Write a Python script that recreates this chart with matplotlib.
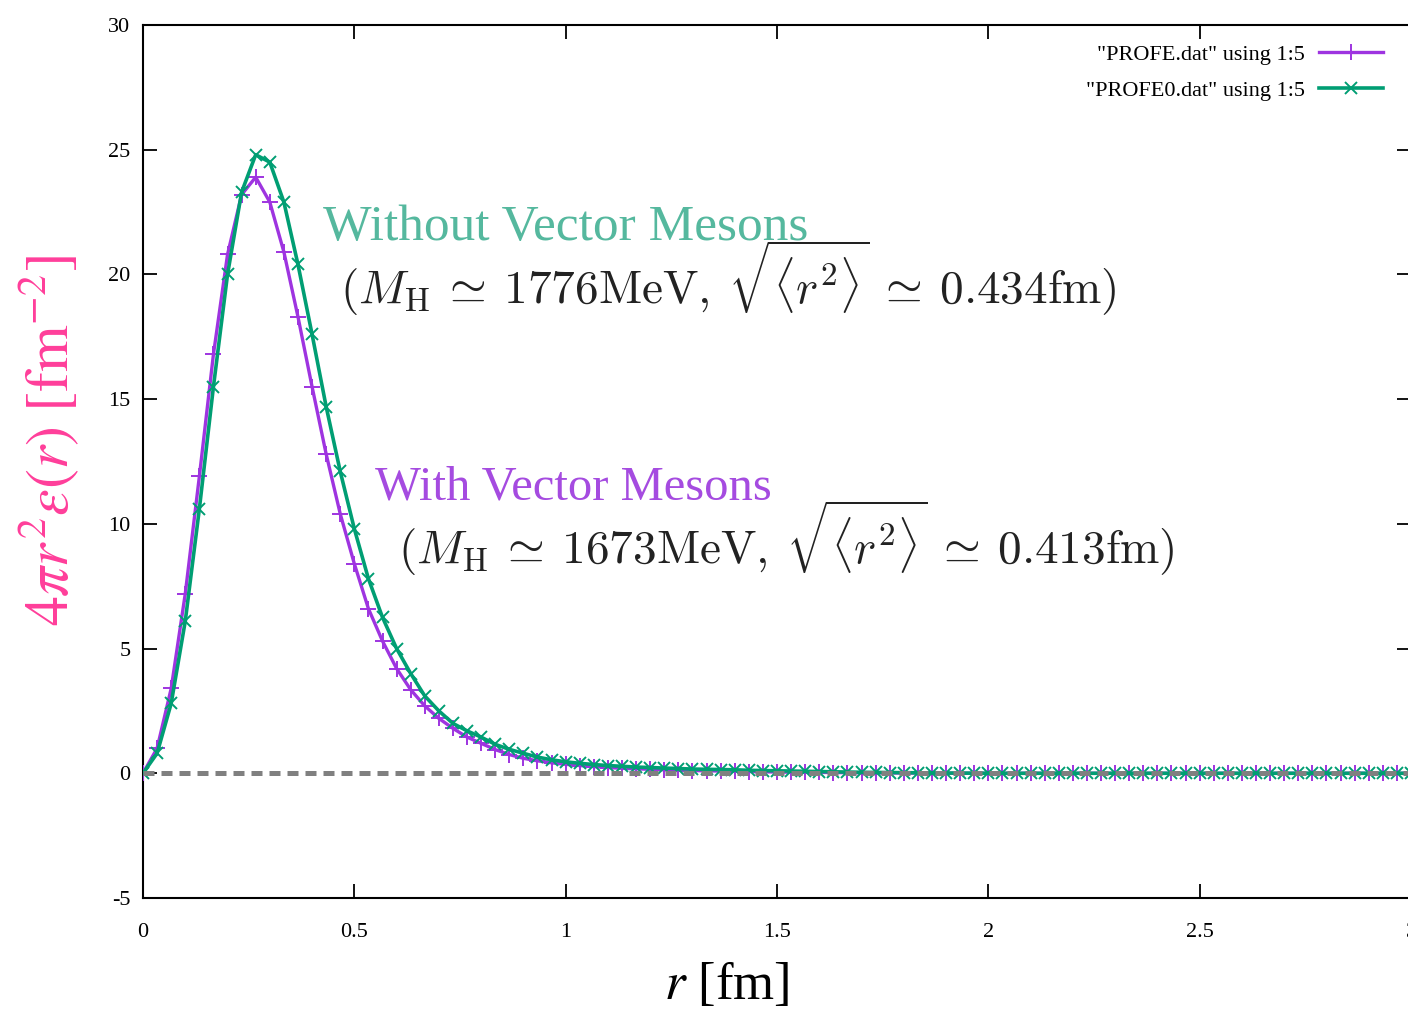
import numpy as np
import matplotlib
matplotlib.use("Agg")
import matplotlib.pyplot as plt

# radial grid of the data files (fm)
r = np.arange(91) / 30.0

# 4 pi r^2 eps(r), column 5 of PROFE.dat (with vector mesons)
with_vm = [0.0, 1.0, 3.4, 7.2, 11.9, 16.8, 20.8, 23.2, 23.9, 22.9,
           20.9, 18.3, 15.5, 12.8, 10.4, 8.4, 6.6, 5.3, 4.2, 3.35,
           2.7, 2.2, 1.8, 1.45, 1.2, 0.95, 0.75, 0.6, 0.5, 0.42,
           0.36, 0.31, 0.27, 0.23, 0.2, 0.18, 0.16, 0.14, 0.12, 0.11,
           0.1, 0.09, 0.08, 0.07, 0.06, 0.05, 0.045, 0.04, 0.035, 0.03,
           0.025, 0.02, 0.016, 0.013, 0.01, 0.008, 0.006, 0.004, 0.002, 0.001,
           0.0, 0.0, 0.0, 0.0, 0.0, 0.0, 0.0, 0.0, 0.0, 0.0,
           0.0, 0.0, 0.0, 0.0, 0.0, 0.0, 0.0, 0.0, 0.0, 0.0,
           0.0, 0.0, 0.0, 0.0, 0.0, 0.0, 0.0, 0.0, 0.0, 0.0,
           0.0]

# column 5 of PROFE0.dat (without vector mesons)
without_vm = [0.0, 0.8, 2.8, 6.1, 10.6, 15.5, 20.0, 23.3, 24.8, 24.5,
              22.9, 20.4, 17.6, 14.7, 12.1, 9.8, 7.8, 6.25, 5.0, 4.0,
              3.1, 2.5, 2.0, 1.7, 1.45, 1.16, 0.96, 0.8, 0.65, 0.54,
              0.46, 0.4, 0.35, 0.31, 0.28, 0.25, 0.23, 0.21, 0.19, 0.17,
              0.16, 0.15, 0.14, 0.12, 0.11, 0.1, 0.09, 0.08, 0.07, 0.06,
              0.05, 0.04, 0.035, 0.03, 0.025, 0.02, 0.015, 0.01, 0.008, 0.005,
              0.0, 0.0, 0.0, 0.0, 0.0, 0.0, 0.0, 0.0, 0.0, 0.0,
              0.0, 0.0, 0.0, 0.0, 0.0, 0.0, 0.0, 0.0, 0.0, 0.0,
              0.0, 0.0, 0.0, 0.0, 0.0, 0.0, 0.0, 0.0, 0.0, 0.0,
              0.0]

xticks = [0, 0.5, 1, 1.5, 2, 2.5, 3]
yticks = [-5, 0, 5, 10, 15, 20, 25, 30]

purple = "#9E34E0"
green = "#009E73"

W, H = 1408, 1011
plt.rcParams["font.family"] = ["Liberation Serif", "DejaVu Serif"]

fig = plt.figure(figsize=(W / 100, H / 100), dpi=100)
ax = fig.add_axes([143 / W, 1 - 898 / H, (1411 - 143) / W, (898 - 25) / H])

ax.plot(r, with_vm, color=purple, lw=2.4, marker="+", ms=11, mew=1.4,
        label='"PROFE.dat" using 1:5', zorder=3)
ax.plot(r, without_vm, color=green, lw=2.6, marker="x", ms=8, mew=1.4,
        label='"PROFE0.dat" using 1:5', zorder=3)
ax.plot([0, 3], [0, 0], color="#808080", lw=3.6, dashes=(2.2, 1.4), zorder=4)

ax.set_xlim(0, 3)
ax.set_ylim(-5, 30)
ax.set_xticks(xticks)
ax.set_xticklabels(["0", "0.5", "1", "1.5", "2", "2.5", "3"])
ax.set_yticks(yticks)
ax.set_yticklabels([str(v) for v in yticks])
ax.tick_params(direction="in", length=10, width=1.3, labelsize=16,
               top=True, right=True)
ax.tick_params(axis="x", pad=18)
ax.tick_params(axis="y", pad=9)
for s in ax.spines.values():
    s.set_linewidth(1.5)

leg = ax.legend(loc="upper right", bbox_to_anchor=(1383 / W, 1 - 44 / H),
                bbox_transform=fig.transFigure, frameon=False, markerfirst=False,
                fontsize=16, handlelength=2.9, handletextpad=0.6,
                labelspacing=0.72, borderpad=0, borderaxespad=0)

# axis labels
fig.text(727 / W, 1 - 985 / H, r"$r$ [fm]", fontsize=38, ha="center", va="center",
         math_fontfamily="stix")
fig.text(48 / W, 1 - 441 / H, r"$4\pi r^2\varepsilon(r)\ [\mathrm{fm}^{\mathrm{-2}}]$",
         fontsize=43, rotation=90, ha="center", va="center", color="#FF3E9A",
         math_fontfamily="stix")

# annotations
rms = r"\sqrt{\langle r^2\rangle}"
fig.text(323 / W, 1 - 240 / H, "Without Vector Mesons", fontsize=37,
         color="#55B89E", ha="left", va="baseline")
fig.text(340 / W, 1 - 304 / H,
         r"$(M_{\rm H}\:\simeq\:1776{\rm MeV},\:" + rms + r"\:\simeq\:0.434{\rm fm})$",
         fontsize=34, color="#222222", ha="left", va="baseline", math_fontfamily="cm")
fig.text(375 / W, 1 - 500 / H, "With Vector Mesons", fontsize=35,
         color="#A54BE0", ha="left", va="baseline")
fig.text(398 / W, 1 - 564 / H,
         r"$(M_{\rm H}\:\simeq\:1673{\rm MeV},\:" + rms + r"\:\simeq\:0.413{\rm fm})$",
         fontsize=34, color="#222222", ha="left", va="baseline", math_fontfamily="cm")

fig.savefig("out.png", dpi=100)
